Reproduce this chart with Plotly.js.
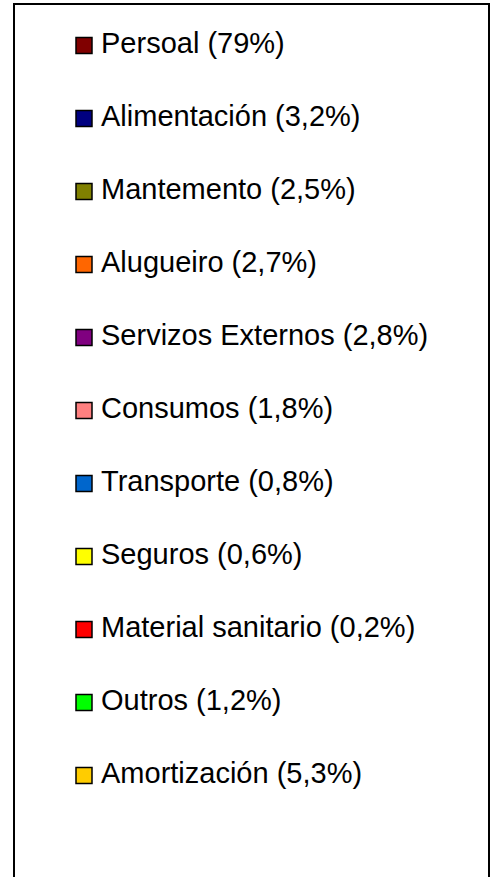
<!DOCTYPE html>
<html>
<head>
<meta charset="utf-8">
<script src="https://cdn.plot.ly/plotly-3.0.1.min.js"></script>
<style>html,body{margin:0;padding:0;background:#fff;}#chart{width:495px;height:877px;}</style>
</head>
<body>
<div id="chart"></div>
<script>
const categories = ["Persoal", "Alimentación", "Mantemento", "Alugueiro", "Servizos Externos", "Consumos", "Transporte", "Seguros", "Material sanitario", "Outros", "Amortización"];
const percentLabels = ["79%", "3,2%", "2,5%", "2,7%", "2,8%", "1,8%", "0,8%", "0,6%", "0,2%", "1,2%", "5,3%"];
const values = [79, 3.2, 2.5, 2.7, 2.8, 1.8, 0.8, 0.6, 0.2, 1.2, 5.3];
const colors = ["#800000", "#000080", "#808000", "#FF6600", "#800080", "#FF8080", "#0066CC", "#FFFF00", "#FF0000", "#00FF00", "#FFCC00"];

const rows = categories.map((c, i) => i);
const labels = categories.map((c, i) => c + " (" + percentLabels[i] + ")");

const markerTrace = {
  type: "scatter",
  mode: "markers",
  x: rows.map(() => 0),
  y: rows,
  marker: {symbol: "square", size: 16, color: colors, line: {color: "#000", width: 1.5}},
  hoverinfo: "skip",
  showlegend: false
};
const textTrace = {
  type: "scatter",
  mode: "text",
  x: rows.map(() => 0.17),
  y: rows,
  text: labels,
  textposition: "middle right",
  textfont: {family: "Arial, 'Liberation Sans', sans-serif", size: 29, color: "#000"},
  hoverinfo: "skip",
  showlegend: false
};

const layout = {
  width: 495, height: 877,
  margin: {l: 0, r: 0, t: 0, b: 0},
  paper_bgcolor: "#fff", plot_bgcolor: "#fff",
  showlegend: false,
  xaxis: {range: [-0.84, 4.11], visible: false, fixedrange: true},
  yaxis: {range: [11.391, -0.623], visible: false, fixedrange: true},
  shapes: [{
    type: "rect", xref: "paper", yref: "paper",
    x0: 14/495, x1: 489/495, y0: -0.05, y1: 1 - 4/877,
    line: {color: "#000", width: 2}, fillcolor: "rgba(0,0,0,0)"
  }]
};
Plotly.newPlot("chart", [markerTrace, textTrace], layout, {staticPlot: true, displayModeBar: false});
</script>
</body>
</html>
